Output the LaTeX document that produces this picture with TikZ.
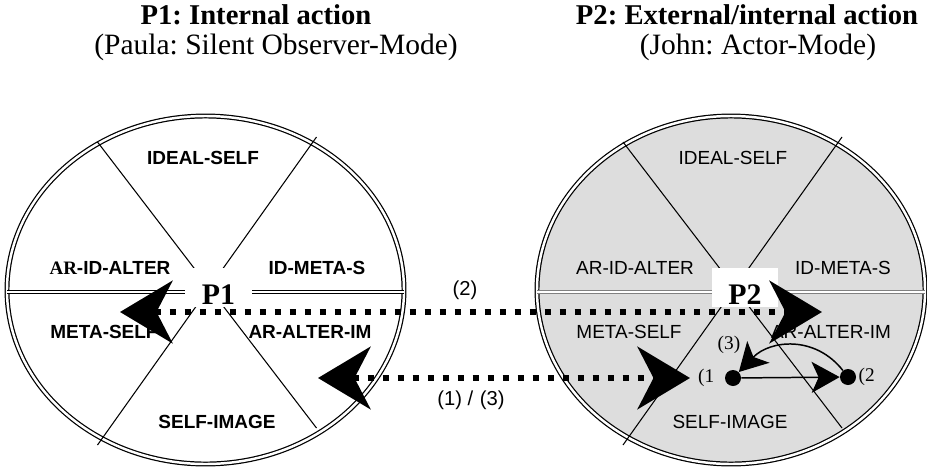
\documentclass[tikz,border=0pt]{standalone}
\usepackage{fontspec}
\setmainfont{Liberation Serif}
\setsansfont{Liberation Sans}
\frenchspacing
\usetikzlibrary{arrows.meta,positioning,calc}
\newcommand \mydrawwheel[5]
{
\coordinate (#1) at (#2,290);                                  % centre
\draw[rim,fill=#4] (#1) ellipse [x radius=#3, y radius=174];
\draw[crossline,draw=#5] ($(#1)+(-#3,2)$) -- ($(#1)+(#3,2)$);  % middle line
\draw[spoke] ($(#1)+(-108,-148)$) -- ($(#1)+(111,138)$);       % upper left - lower right
\draw[spoke] ($(#1)+(111,-153)$) -- ($(#1)+(-108,155)$);       % upper right - lower left
}

\begin{document}
\begin{tikzpicture}[x=0.02cm, y=-0.02cm, line join=round,
  rim/.style={line width=0.7pt, double=white, double distance=1.4pt},
  crossline/.style={line width=0.7pt, double=white, double distance=1.2pt},
  spoke/.style={line width=0.6pt},
  pbox/.style={fill=white, inner sep=0pt, minimum width=1.33cm, text height=0.72cm, text depth=0.06cm,
               font=\bfseries\fontsize{17}{18}\selectfont},
  lbl/.style={inner sep=0pt, font=\sffamily\fontsize{10.8}{12}\selectfont},
  boldlbl/.style={inner sep=0pt, font=\sffamily\bfseries\fontsize{10.8}{12}\selectfont},
  title/.style={anchor=base, inner sep=0pt, font=\bfseries\fontsize{16.3}{18}\selectfont},
  subtitle/.style={anchor=base, inner sep=0pt, font=\fontsize{16.8}{18}\selectfont},
  relarrow/.style={line width=0.12cm, dash pattern=on 0.12cm off 0.18cm,
                   >={Stealth[length=1.05cm, width=1.25cm, inset=0.32cm]}, <->},
  arrlbl/.style={inner sep=0pt, font=\sffamily\fontsize{11.5}{13}\selectfont},
  dot/.style={circle, fill=black, minimum size=0.32cm, inner sep=0pt},
  dotlbl/.style={inner sep=0pt, font=\fontsize{11}{13}\selectfont},
  dotarrow/.style={line width=0.85pt, -{Stealth[length=0.56cm, width=0.62cm, inset=0.14cm]}}]
\useasboundingbox (0,0) rectangle (927,467);

% titles
\node[title]    (t1) at (256,24) {P1: Internal action};
\node[subtitle] (s1) at (276,54) {(Paula: Silent Observer-Mode)};
\node[title]    (t2) at (747,24) {P2: External/internal action};
\node[subtitle] (s2) at (758,54) {(John: Actor-Mode)};

% the two wheels
\mydrawwheel{w1}{205.5}{198.5}{white}{black}
\mydrawwheel{w2}{731}{194}{gray!27}{gray}

\node[pbox] (p1) at (218.5,287.5) {P1};
\node[pbox] (p2) at (745,287.5) {P2};

% P1 labels
\node[boldlbl] (l-ideal)     at (203,158) {IDEAL-SELF};
\node[boldlbl] (l-aridalter) at (110,268) {{\rmfamily AR}-ID-ALTER};
\node[boldlbl] (l-idmeta)    at (317,268) {ID-META-S};
\node[boldlbl] (l-meta)      at (104,332) {META-SELF};
\node[boldlbl] (l-aralter)   at (310,332) {AR-ALTER-IM};
\node[boldlbl] (l-selfimg)   at (217,422) {SELF-IMAGE};

% P2 labels
\node[lbl] (r-ideal)     at (733,158) {IDEAL-SELF};
\node[lbl] (r-aridalter) at (635,268) {AR-ID-ALTER};
\node[lbl] (r-idmeta)    at (843,268) {ID-META-S};
\node[lbl] (r-meta)      at (629,332) {META-SELF};
\node[lbl] (r-aralter)   at (831,332) {AR-ALTER-IM};
\node[lbl] (r-selfimg)   at (730,422) {SELF-IMAGE};

% relations between P1 and P2
\coordinate (a2l)  at (120,312);
\coordinate (a2r)  at (822,312);
\coordinate (a13l) at (318,378);
\coordinate (a13r) at (690,378);
\draw[relarrow] (a2l) -- (a2r);
\draw[relarrow] (a13l) -- (a13r);
\node[arrlbl] (lab2)  at (465,290) {(2)};
\node[arrlbl] (lab13) at (471,400) {(1) /\,\,(3)};

% steps inside P2
\node[dot] (d1) at (733,378) {};
\node[dot] (d2) at (848,377) {};
\node[dotlbl, left=0.2cm of d1]  (n1) {(1};
\node[dotlbl, right=0.04cm of d2] (n2) {(2};
\node[dotlbl] (n3) at (729,345) {(3)};
\draw[dotarrow] (d1) -- (d2);
\draw[dotarrow] (d2) .. controls (815,335) and (770,340) .. (d1);
\end{tikzpicture}
\end{document}
